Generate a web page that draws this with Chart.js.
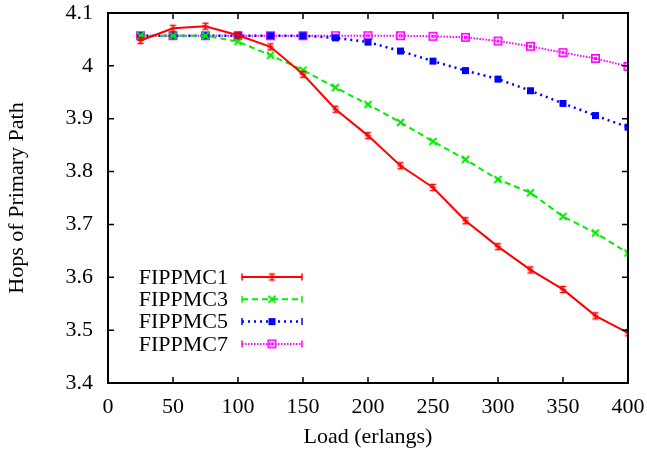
<!DOCTYPE html>
<html lang="en">
<head>
    <title>Hops of Primary Path</title>
    <script src="https://cdn.jsdelivr.net/npm/chart.js"></script>
    <style>
        body { margin: 0; background: #fff; }
        #chartContainer { width: 647px; height: 453px; }
    </style>
</head>
<body>

<div id="chartContainer">
    <canvas id="hopsChart" width="647" height="453"></canvas>
</div>

<script>
// Data
const loads = [25, 50, 75, 100, 125, 150, 175, 200, 225, 250, 275, 300, 325, 350, 375, 400];
const fippmc1 = [4.048, 4.071, 4.075, 4.058, 4.036, 3.984, 3.918, 3.868, 3.811, 3.770, 3.707, 3.658, 3.614, 3.577, 3.527, 3.495];
const fippmc3 = [4.057, 4.057, 4.057, 4.046, 4.020, 3.992, 3.959, 3.927, 3.893, 3.857, 3.823, 3.785, 3.760, 3.715, 3.684, 3.646];
const fippmc5 = [4.057, 4.057, 4.057, 4.057, 4.057, 4.057, 4.053, 4.045, 4.028, 4.009, 3.991, 3.975, 3.953, 3.929, 3.906, 3.884];
const fippmc7 = [4.057, 4.057, 4.057, 4.057, 4.057, 4.057, 4.057, 4.057, 4.057, 4.056, 4.054, 4.047, 4.037, 4.025, 4.014, 3.999];
const seriesNames = ['FIPPMC1', 'FIPPMC3', 'FIPPMC5', 'FIPPMC7'];

const xTicks = [0, 50, 100, 150, 200, 250, 300, 350, 400];
const xTickLabels = ['0', '50', '100', '150', '200', '250', '300', '350', '400'];
const yTicks = [3.4, 3.5, 3.6, 3.7, 3.8, 3.9, 4.0, 4.1];
const yTickLabels = ['3.4', '3.5', '3.6', '3.7', '3.8', '3.9', '4', '4.1'];

const FONT = "'Liberation Serif', 'DejaVu Serif', serif";

// Small marker images (gnuplot-like point types)
function makeMarker(color, kind) {
    const c = document.createElement('canvas');
    c.width = 11; c.height = 11;
    const g = c.getContext('2d');
    g.strokeStyle = color;
    g.fillStyle = color;
    g.lineWidth = 1.6;
    g.beginPath();
    if (kind === 'ibeam') {
        g.moveTo(5.5, 2.5); g.lineTo(5.5, 8.5);
        g.moveTo(2.5, 2.5); g.lineTo(8.5, 2.5);
        g.moveTo(2.5, 8.5); g.lineTo(8.5, 8.5);
        g.moveTo(2.5, 5.5); g.lineTo(8.5, 5.5);
        g.stroke();
    } else if (kind === 'x') {
        g.lineWidth = 2;
        g.moveTo(2, 2); g.lineTo(9, 9);
        g.moveTo(9, 2); g.lineTo(2, 9);
        g.stroke();
    } else if (kind === 'box') {
        g.fillRect(2, 2, 7, 7);
    } else if (kind === 'openbox') {
        g.lineWidth = 1.6;
        g.strokeRect(1.8, 1.8, 7.4, 7.4);
        g.lineWidth = 1;
        g.strokeRect(4.5, 4.5, 2, 2);
    }
    return c;
}

const styles = [
    { color: '#ff0000', dash: [], width: 2, marker: makeMarker('#ff0000', 'ibeam') },
    { color: '#00ee00', dash: [6, 4], width: 2, marker: makeMarker('#00ee00', 'x') },
    { color: '#0000ff', dash: [2, 4], width: 2.5, marker: makeMarker('#0000ff', 'box') },
    { color: '#ff00ff', dash: [1.5, 1.5], width: 2, marker: makeMarker('#ff00ff', 'openbox') }
];

const allSeries = [fippmc1, fippmc3, fippmc5, fippmc7];

// Inward ticks, frame and gnuplot-style key
const framePlugin = {
    id: 'frame',
    afterDraw(chart) {
        const ctx = chart.ctx;
        const area = chart.chartArea;
        const xs = chart.scales.x;
        const ys = chart.scales.y;
        const tl = 6;
        ctx.save();
        ctx.strokeStyle = '#000';
        ctx.lineWidth = 1.5;
        ctx.beginPath();
        xTicks.forEach(v => {
            const px = xs.getPixelForValue(v);
            ctx.moveTo(px, area.bottom); ctx.lineTo(px, area.bottom - tl);
            ctx.moveTo(px, area.top); ctx.lineTo(px, area.top + tl);
        });
        yTicks.forEach(v => {
            const py = ys.getPixelForValue(v);
            ctx.moveTo(area.left, py); ctx.lineTo(area.left + tl, py);
            ctx.moveTo(area.right, py); ctx.lineTo(area.right - tl, py);
        });
        ctx.stroke();
        ctx.lineWidth = 2;
        ctx.strokeRect(area.left, area.top, area.right - area.left, area.bottom - area.top);

        // key
        const key = chart.options.plugins.frame;
        ctx.font = '22px ' + FONT;
        ctx.textAlign = 'right';
        ctx.textBaseline = 'middle';
        chart.data.datasets.forEach((ds, i) => {
            const st = styles[i];
            const y = key.y + i * key.rowGap;
            ctx.fillStyle = '#000';
            ctx.fillText(ds.label, key.textRight, y + 1);
            ctx.strokeStyle = st.color;
            ctx.lineWidth = st.width;
            ctx.setLineDash(st.dash);
            ctx.beginPath();
            ctx.moveTo(key.lineLeft, y); ctx.lineTo(key.lineRight, y);
            ctx.stroke();
            ctx.setLineDash([]);
            ctx.lineWidth = 1.5;
            ctx.beginPath();
            ctx.moveTo(key.lineLeft, y - 3.5); ctx.lineTo(key.lineLeft, y + 3.5);
            ctx.moveTo(key.lineRight, y - 3.5); ctx.lineTo(key.lineRight, y + 3.5);
            ctx.stroke();
            const mid = (key.lineLeft + key.lineRight) / 2;
            ctx.drawImage(st.marker, mid - st.marker.width / 2, y - st.marker.height / 2);
        });
        ctx.restore();
    }
};

const ctx = document.getElementById('hopsChart').getContext('2d');

const hopsChart = new Chart(ctx, {
    type: 'line',
    data: {
        datasets: allSeries.map((vals, i) => ({
            label: seriesNames[i],
            data: loads.map((x, j) => ({ x: x, y: vals[j] })),
            borderColor: styles[i].color,
            backgroundColor: styles[i].color,
            borderWidth: styles[i].width,
            borderDash: styles[i].dash,
            pointStyle: styles[i].marker,
            tension: 0,
            fill: false
        }))
    },
    options: {
        responsive: false,
        animation: false,
        layout: { padding: { top: 13, right: 19, left: 0, bottom: 0 } },
        plugins: {
            legend: { display: false },
            tooltip: { enabled: false },
            frame: { y: 277, rowGap: 22.3, textRight: 228, lineLeft: 242, lineRight: 302 }
        },
        scales: {
            x: {
                type: 'linear',
                min: 0,
                max: 400,
                afterBuildTicks: s => { s.ticks = xTicks.map(v => ({ value: v })); },
                afterFit: s => { s.height = 70; s.paddingLeft = 0; s.paddingRight = 0; },
                grid: { display: false, drawTicks: false },
                border: { display: false },
                ticks: {
                    padding: 11,
                    maxRotation: 0,
                    color: '#000',
                    font: { family: FONT, size: 22 },
                    callback: (v, i) => xTickLabels[i]
                },
                title: {
                    display: true,
                    text: 'Load (erlangs)',
                    color: '#000',
                    font: { family: FONT, size: 22 },
                    padding: 3
                }
            },
            y: {
                type: 'linear',
                min: 3.4,
                max: 4.1,
                afterBuildTicks: s => { s.ticks = yTicks.map(v => ({ value: v })); },
                afterFit: s => { s.width = 108; s.paddingTop = 0; s.paddingBottom = 0; },
                grid: { display: false, drawTicks: false },
                border: { display: false },
                ticks: {
                    padding: 15,
                    color: '#000',
                    font: { family: FONT, size: 22 },
                    callback: (v, i) => yTickLabels[i]
                },
                title: {
                    display: true,
                    text: 'Hops of Primary Path',
                    color: '#000',
                    font: { family: FONT, size: 22 },
                    padding: 4
                }
            }
        }
    },
    plugins: [framePlugin]
});
</script>

</body>
</html>
